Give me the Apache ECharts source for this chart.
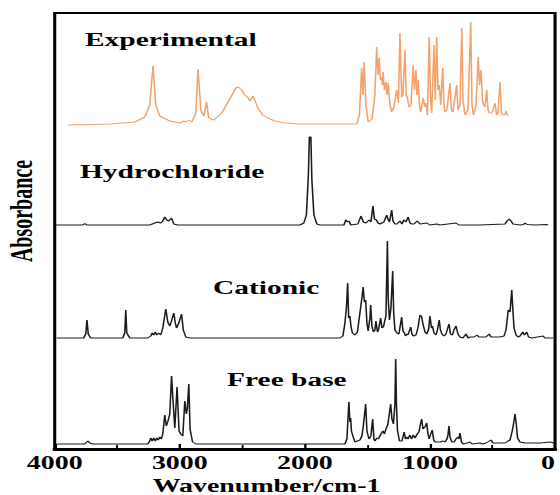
<!DOCTYPE html>
<html><head><meta charset="utf-8">
<script src="https://cdn.jsdelivr.net/npm/echarts@6/dist/echarts.min.js"></script>
<style>
html,body{margin:0;padding:0;background:#fff;overflow:hidden;width:560px;height:495px;}
#wrap{position:absolute;left:0;top:0;width:361.29px;height:495px;transform:scaleX(1.55);transform-origin:0 0;}
</style></head>
<body><div id="wrap"></div>
<script>
// x-axis ticks (wavenumber, cm-1)
const xTicks = [4000, 3000, 2000, 1000, 0];
const seriesNames = ['Experimental', 'Hydrochloride', 'Cationic', 'Free base'];

// [wavenumber, absorbance] (arbitrary units)
const experimental = [[3896,0],[3560,1],[3360,3],[3280,8],[3240,20],[3214,59],[3192,20],[3160,9],[3080,4],[3000,2],[2968,4],[2952,3],[2928,5],[2904,3],[2872,12],[2854,56],[2832,15],[2808,9],[2786,23],[2768,7],[2728,5],[2664,12],[2600,26],[2552,37],[2534,38],[2504,35],[2480,30],[2458,28],[2440,24],[2414,29],[2376,17],[2336,10],[2296,7],[2240,4],[2160,2],[2040,1],[1800,1],[1584,1],[1564,10],[1546,57],[1536,30],[1526,63],[1512,20],[1494,3],[1464,6],[1440,30],[1426,78],[1416,50],[1406,67],[1396,45],[1386,48],[1380,40],[1374,53],[1364,35],[1352,43],[1344,30],[1334,42],[1320,20],[1306,13],[1288,18],[1266,35],[1252,22],[1240,92],[1226,28],[1216,30],[1200,75],[1190,30],[1182,28],[1168,18],[1152,20],[1134,60],[1124,35],[1112,55],[1104,30],[1094,45],[1084,20],[1074,13],[1054,27],[1040,18],[1032,22],[1020,10],[1006,88],[996,30],[986,12],[968,80],[958,25],[946,88],[936,35],[926,40],[914,20],[898,57],[888,20],[880,13],[864,15],[840,42],[828,15],[816,13],[786,40],[776,15],[760,20],[746,97],[736,25],[720,10],[696,15],[674,103],[664,20],[652,10],[632,20],[614,68],[604,40],[592,55],[580,25],[572,20],[560,18],[546,35],[536,15],[524,12],[504,12],[480,22],[468,10],[456,12],[440,43],[428,12],[416,10],[404,10],[392,14],[384,10],[374,9]];

const hydrochloride = [[3992,0],[3776,0],[3760,1.5],[3744,0],[3240,0],[3200,2],[3176,3],[3152,2],[3136,4],[3120,8],[3104,5],[3088,4],[3066,7],[3048,1],[3016,0],[2040,0],[2008,2],[1988,10],[1972,50],[1964,88],[1952,88],[1944,45],[1928,10],[1904,1],[1880,0],[1688,0],[1672,5],[1660,3],[1648,4],[1632,0],[1576,1],[1552,9],[1532,3],[1512,2],[1486,5],[1472,3],[1456,19],[1444,6],[1428,5],[1416,2],[1400,1],[1368,3],[1346,10],[1336,6],[1324,3],[1306,15],[1296,4],[1280,1],[1264,1],[1240,4],[1224,1],[1208,5],[1192,3],[1174,8],[1160,2],[1144,1],[1128,1],[1102,4],[1080,1],[1026,2],[1000,0],[946,1],[920,0],[792,2],[768,0],[600,0],[400,1],[384,4],[366,6],[352,4],[336,1],[280,0],[252,0.5],[240,2],[224,0.5],[160,0],[72,0.5],[56,0]];

const cationic = [[3984,0],[3768,0],[3752,4],[3742,18],[3732,4],[3712,0],[3456,0],[3440,5],[3432,28],[3424,5],[3400,0],[3256,0],[3232,2],[3220,5],[3208,3],[3196,6],[3184,3],[3168,5],[3152,3],[3136,10],[3112,29],[3096,16],[3080,12],[3064,18],[3048,25],[3036,15],[3026,10],[3008,15],[2986,24],[2972,8],[2952,1],[2920,0],[1720,0],[1696,2],[1680,15],[1668,30],[1658,55],[1650,20],[1640,22],[1632,12],[1620,5],[1600,3],[1580,6],[1560,25],[1544,40],[1534,51],[1524,36],[1514,38],[1504,15],[1494,7],[1480,20],[1474,33],[1464,12],[1452,6],[1440,8],[1432,17],[1420,6],[1412,8],[1394,20],[1384,10],[1372,11],[1360,18],[1352,22],[1346,60],[1340,97],[1334,40],[1324,18],[1312,30],[1298,67],[1290,25],[1280,8],[1264,5],[1248,4],[1226,21],[1216,7],[1204,5],[1196,2],[1184,4],[1176,3],[1154,11],[1144,4],[1132,2],[1112,3],[1096,10],[1080,23],[1068,22],[1056,14],[1040,6],[1026,4],[1012,8],[1000,22],[988,10],[980,12],[968,5],[952,3],[940,8],[926,18],[916,8],[904,4],[888,2],[872,4],[848,14],[836,4],[820,3],[808,8],[792,12],[776,4],[760,1],[736,0],[712,4],[696,0],[680,1],[648,1],[624,3],[608,1],[552,1],[526,4],[512,1],[440,1],[408,2],[392,8],[374,28],[360,26],[346,48],[338,30],[328,10],[312,3],[296,1],[280,2],[258,6],[244,3],[226,6],[212,1],[184,0],[96,2],[80,0],[16,0]];

const freeBase = [[3984,0],[3760,0],[3744,2],[3734,3],[3720,1],[3696,0],[3256,0],[3240,3],[3232,6],[3220,3],[3208,6],[3196,3],[3184,6],[3172,4],[3160,7],[3148,5],[3136,10],[3120,29],[3108,18],[3094,23],[3080,30],[3066,68],[3054,43],[3040,16],[3022,57],[3006,13],[2992,10],[2976,8],[2960,43],[2948,30],[2940,35],[2928,60],[2918,15],[2898,2],[2872,0],[1680,0],[1664,5],[1648,42],[1640,22],[1634,26],[1628,13],[1616,8],[1600,2],[1560,4],[1544,8],[1534,17],[1514,40],[1504,13],[1488,5],[1472,8],[1458,25],[1448,5],[1440,3],[1424,6],[1412,5],[1392,10],[1376,13],[1364,10],[1352,15],[1336,20],[1314,40],[1304,25],[1292,20],[1280,40],[1274,85],[1268,40],[1260,14],[1244,3],[1224,3],[1206,12],[1196,5],[1186,7],[1176,5],[1160,9],[1148,5],[1134,9],[1120,6],[1102,10],[1088,12],[1076,20],[1066,25],[1056,15],[1040,17],[1026,21],[1016,10],[1006,5],[994,10],[982,14],[970,4],[960,2],[920,2],[894,3],[880,2],[864,5],[856,9],[848,18],[840,7],[824,2],[808,2],[792,5],[778,7],[768,5],[760,11],[748,2],[736,0],[704,1],[680,2],[664,0],[600,1],[576,0],[552,1],[512,4],[496,1],[440,1],[400,1],[376,3],[360,4],[342,13],[332,20],[320,30],[310,20],[300,6],[280,2],[240,1],[200,1],[120,1],[40,2],[8,1]];

const spectra = [experimental, hydrochloride, cationic, freeBase];
// layout: vertical baseline offset of each trace (stacked plot)
const offsets = [324, 224, 111, 5];
const colors = ['#F4A26C', '#1a1a1a', '#1a1a1a', '#1a1a1a'];

const chart = echarts.init(document.getElementById('wrap'), null, {renderer: 'svg', width: 361.29, height: 495});
const FONT = "'Liberation Serif','Times New Roman',serif";

const series = spectra.map((s, i) => ({
  name: seriesNames[i],
  type: 'line',
  symbol: 'none',
  smooth: false,
  animation: false,
  lineStyle: {color: colors[i], width: 1},
  data: s.map(p => [p[0], p[1] + offsets[i]])
}));

const labelPos = [[54.8, 39], [51.6, 171], [137.4, 287], [146.5, 379]];

chart.setOption({
  animation: false,
  grid: {left: 35.3, right: 3.2, top: 13, bottom: 46, containLabel: false, outerBoundsMode: 'none',
    show: true, borderColor: '#000', borderWidth: 2, backgroundColor: 'transparent'},
  xAxis: {
    type: 'value', inverse: true, min: 0, max: 4000, interval: 1000,
    axisLine: {show: true, lineStyle: {color: '#000', width: 3}},
    axisTick: {show: true, inside: true, length: 5, lineStyle: {color: '#000', width: 1.5}},
    minorTick: {show: true, splitNumber: 2, length: 4, lineStyle: {color: '#000', width: 1.2}},
    splitLine: {show: false},
    axisLabel: {color: '#000', fontFamily: FONT, fontWeight: 'bold', fontSize: 18, margin: 5, hideOverlap: false,
      alignMinLabel: 'right',
      formatter: v => xTicks.includes(v) ? String(v) : ''}
  },
  yAxis: {type: 'value', min: 0, max: 436, show: false},
  series: series,
  graphic: [
    ...seriesNames.map((n, i) => ({
      type: 'text', x: labelPos[i][0], y: labelPos[i][1], silent: true,
      style: {text: n, font: "bold 19px " + FONT, fill: '#000', align: 'left', verticalAlign: 'middle'}
    })),
    {type: 'text', x: 14.2, y: 211, rotation: Math.PI / 2, silent: true,
      style: {text: 'Absorbance', font: "bold 20px " + FONT, fill: '#000', align: 'center', verticalAlign: 'middle'}},
    {type: 'text', x: 172, y: 486, silent: true,
      style: {text: 'Wavenumber/cm-1', font: "bold 18px " + FONT, fill: '#000', align: 'center', verticalAlign: 'middle'}}
  ]
});
</script>
</body></html>
